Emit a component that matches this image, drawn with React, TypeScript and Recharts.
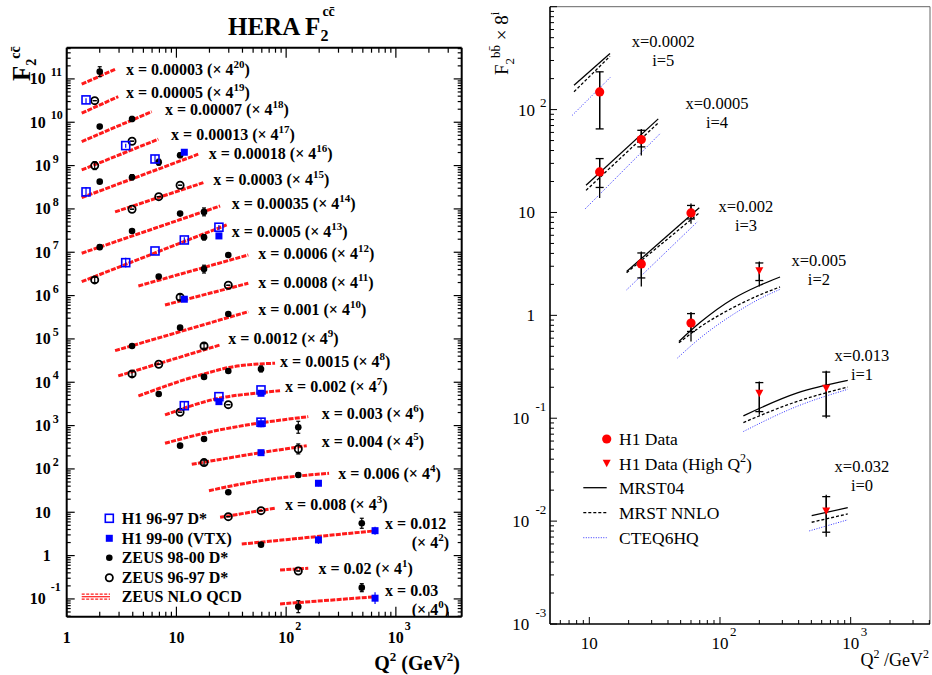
import React from "react";
import { ComposedChart, Line, Scatter, XAxis, YAxis, ErrorBar, ReferenceLine } from "recharts";

const SERIF = "'Liberation Serif', 'Times New Roman', Times, serif";

// ---------------- Left panel: HERA F2 cc ----------------
const L_Q_DOMAIN = [1, 3981];
const L_F_DOMAIN = [0.0389, 5.25e11];

type Pt = { q: number; f: number; e?: [number, number] };

const h1_9697: Pt[] = [
  { q: 1.5, f: 3.28e10, e: [0.6e10, 0.3e10] },
  { q: 3.45, f: 2.89e9, e: [0.3e9, 0.3e9] },
  { q: 1.5, f: 2.47e8, e: [0.57e8, 0.75e8] },
  { q: 6.38, f: 1.42e9, e: [0.27e9, 0.33e9] },
  { q: 3.45, f: 5.75e6, e: [1.3e6, 1.7e6] },
  { q: 6.38, f: 1.07e7 },
  { q: 11.8, f: 1.92e7, e: [0.3e7, 0.3e7] },
  { q: 24.4, f: 3.78e7, e: [0.5e7, 0.5e7] },
  { q: 11.8, f: 2.88e3, e: [0.65e3, 0.8e3] },
  { q: 24.4, f: 4.65e3 },
  { q: 59, f: 6.65e3 },
  { q: 59, f: 1.2e3, e: [0.2e3, 0.25e3] },
];

const h1_9900: Pt[] = [
  { q: 11.8, f: 2.03e9 },
  { q: 24.4, f: 2.38e7 },
  { q: 11.8, f: 8.24e5 },
  { q: 24.4, f: 3.57e3 },
  { q: 59, f: 5.57e3, e: [0.8e3, 1.0e3] },
  { q: 59, f: 1.1e3, e: [0.18e3, 0.2e3] },
  { q: 59, f: 237 },
  { q: 197, f: 46.7, e: [7, 8] },
  { q: 197, f: 2.3, e: [0.44, 0.54] },
  { q: 646, f: 3.76, e: [0.72, 0.89] },
  { q: 646, f: 0.104, e: [0.028, 0.039] },
];

const zeus_9800: Pt[] = [
  { q: 2, f: 1.47e11, e: [0.34e11, 0.44e11] },
  { q: 2, f: 7.94e9 },
  { q: 3.94, f: 1.19e10, e: [0.15e10, 0.17e10] },
  { q: 2, f: 4.26e8 },
  { q: 3.94, f: 5.39e8, e: [0.7e8, 0.8e8] },
  { q: 6.9, f: 1.2e9, e: [0.18e9, 0.2e9] },
  { q: 10.8, f: 1.73e9, e: [0.2e9, 0.22e9] },
  { q: 2, f: 1.31e7, e: [0.15e7, 0.18e7] },
  { q: 3.94, f: 3.1e7 },
  { q: 10.8, f: 7.79e7 },
  { q: 17.85, f: 8.53e7, e: [1.6e7, 2.0e7] },
  { q: 17.85, f: 2.22e7, e: [0.3e7, 0.35e7] },
  { q: 6.9, f: 2.74e6 },
  { q: 17.85, f: 4.12e6, e: [0.8e6, 0.9e6] },
  { q: 29.7, f: 8.67e6 },
  { q: 3.94, f: 6.88e4 },
  { q: 10.8, f: 1.82e5 },
  { q: 29.7, f: 3.77e5 },
  { q: 6.9, f: 5.37e3 },
  { q: 17.85, f: 1.33e4 },
  { q: 29.7, f: 1.82e4 },
  { q: 59, f: 2.03e4, e: [0.3e4, 0.35e4] },
  { q: 10.8, f: 344 },
  { q: 17.85, f: 492 },
  { q: 129, f: 916, e: [250, 340] },
  { q: 29.7, f: 28.9 },
  { q: 129, f: 72.6, e: [8, 9] },
  { q: 59, f: 1.79 },
  { q: 489, f: 5.57, e: [1.3, 1.7] },
  { q: 129, f: 0.0662, e: [0.018, 0.025] },
  { q: 489, f: 0.182, e: [0.035, 0.043] },
];

const zeus_9697: Pt[] = [
  { q: 1.8, f: 3.15e10 },
  { q: 1.8, f: 9.98e8, e: [1.9e8, 2.3e8] },
  { q: 3.94, f: 3.65e9 },
  { q: 3.94, f: 9.84e7 },
  { q: 6.9, f: 1.92e8 },
  { q: 10.8, f: 3.52e8 },
  { q: 1.8, f: 2.3e6, e: [0.3e6, 0.35e6] },
  { q: 10.8, f: 9.16e5, e: [1.2e5, 1.4e5] },
  { q: 29.7, f: 1.73e6 },
  { q: 3.94, f: 1.56e4, e: [0.2e4, 0.25e4] },
  { q: 6.9, f: 2.61e4 },
  { q: 17.85, f: 6.88e4, e: [0.8e4, 0.9e4] },
  { q: 10.8, f: 2.03e3 },
  { q: 29.7, f: 3.04e3 },
  { q: 17.85, f: 140, e: [17, 20] },
  { q: 129, f: 289, e: [67, 88] },
  { q: 29.7, f: 7.92 },
  { q: 59, f: 10.9 },
  { q: 129, f: 0.442 },
];

// ZEUS NLO QCD curves, one per x bin: [Q2, F2 * 4^i]
const nloCurves: number[][][] = [
  [[1.37, 7.55e10], [2.76, 1.67e11]],
  [[1.37, 1.62e10], [2.95, 3.9e10]],
  [[1.37, 3.57e9], [5.95, 1.76e10]],
  [[1.37, 7.94e8], [6.84, 4.06e9]],
  [[1.37, 1.82e8], [15.8, 1.83e9]],
  [[2.76, 8.53e7], [17.6, 4.04e8]],
  [[1.37, 9.49e6], [25, 1.17e8]],
  [[1.37, 2.1e6], [28.7, 4.28e7]],
  [[4.5, 1.67e6], [45.2, 8.67e6]],
  [[7.87, 6.08e5], [45.2, 1.93e6]],
  [[2.76, 5.36e4], [45.2, 4.26e5]],
  [[2.95, 1.4e4], [25, 7.27e4]],
  [[4.5, 4.83e3], [17.85, 1.56e4], [33, 2.29e4], [79.2, 2.75e4]],
  [[7.87, 1.76e3], [24.4, 4.28e3], [59, 5.75e3], [88, 6.4e3]],
  [[7.87, 391], [17.85, 665], [159, 1.61e3]],
  [[13.8, 128], [59, 237], [154, 344]],
  [[19.8, 31.5], [59, 53.7], [246, 79.4]],
  [[25, 7.67], [79.2, 12.4]],
  [[39.4, 1.85], [670, 3.76]],
  [[88, 0.466], [159, 0.51]],
  [[88, 0.0766], [670, 0.113]],
];

const ccLabels = [
  { q: 3.47, f: 1.67e11, text: "x = 0.00003 (\u00d7 4", sup: "20" },
  { q: 3.47, f: 4.83e10, text: "x = 0.00005 (\u00d7 4", sup: "19" },
  { q: 7.87, f: 1.93e10, text: "x = 0.00007 (\u00d7 4", sup: "18" },
  { q: 8.93, f: 5.1e9, text: "x = 0.00013 (\u00d7 4", sup: "17" },
  { q: 19.7, f: 1.93e9, text: "x = 0.00018 (\u00d7 4", sup: "16" },
  { q: 21.7, f: 4.67e8, text: "x = 0.0003 (\u00d7 4", sup: "15" },
  { q: 31.9, f: 1.35e8, text: "x = 0.00035 (\u00d7 4", sup: "14" },
  { q: 31.9, f: 2.99e7, text: "x = 0.0005 (\u00d7 4", sup: "13" },
  { q: 55.8, f: 9.49e6, text: "x = 0.0006 (\u00d7 4", sup: "12" },
  { q: 55.8, f: 2.03e6, text: "x = 0.0008 (\u00d7 4", sup: "11" },
  { q: 55.8, f: 4.67e5, text: "x = 0.001 (\u00d7 4", sup: "10" },
  { q: 29.7, f: 1.0e5, text: "x = 0.0012 (\u00d7 4", sup: "9" },
  { q: 88, f: 2.99e4, text: "x = 0.0015 (\u00d7 4", sup: "8" },
  { q: 97.8, f: 7.92e3, text: "x = 0.002 (\u00d7 4", sup: "7" },
  { q: 211, f: 1.93e3, text: "x = 0.003 (\u00d7 4", sup: "6" },
  { q: 211, f: 426, text: "x = 0.004 (\u00d7 4", sup: "5" },
  { q: 299, f: 79.4, text: "x = 0.006 (\u00d7 4", sup: "4" },
  { q: 97.8, f: 15.3, text: "x = 0.008 (\u00d7 4", sup: "3" },
  { q: 797, f: 5.09, text: "x = 0.012", wrap: "(\u00d7 4", sup: "2" },
  { q: 197, f: 0.509, text: "x = 0.02 (\u00d7 4", sup: "1" },
  { q: 797, f: 0.147, text: "x = 0.03", wrap: "(\u00d7 4", sup: "0" },
];

// ---------------- Right panel: F2 bb ----------------
const R_Q_DOMAIN = [5.003, 4046];
const R_F_DOMAIN = [0.001, 1000];

type BPt = { q: number; f: number; tot: [number, number]; stat: [number, number] };

const h1Data: BPt[] = [
  { q: 12, f: 148.6, tot: [83.7, 84.2], stat: [83.7, 84.2] },
  { q: 12, f: 24.8, tot: [11.0, 9.1], stat: [7.3, 8.6] },
  { q: 25, f: 51.1, tot: [15.4, 13.8], stat: [7.7, 11.8] },
  { q: 25, f: 3.16, tot: [1.25, 1.02], stat: [0.85, 0.88] },
  { q: 60, f: 9.89, tot: [2.11, 2.31], stat: [1.24, 1.81] },
  { q: 60, f: 0.841, tot: [0.284, 0.239], stat: [0.144, 0.199] },
];

const h1HighQ2: BPt[] = [
  { q: 200, f: 2.71, tot: [0.8, 0.63], stat: [0.53, 0.52] },
  { q: 200, f: 0.175, tot: [0.067, 0.053], stat: [0.059, 0.047] },
  { q: 650, f: 0.196, tot: [0.096, 0.093], stat: [0.091, 0.085] },
  { q: 650, f: 0.01256, tot: [0.0055, 0.00544], stat: [0.00476, 0.00474] },
];

const mrst04: number[][][] = [
  [[7.64, 172], [14.4, 351]],
  [[9.44, 18.4], [33.7, 81.2]],
  [[19.3, 2.67], [69.4, 11.1]],
  [[48.5, 0.557], [70.3, 0.85], [126, 1.45], [202, 1.96], [288, 2.36]],
  [[151, 0.1055], [386, 0.175], [950, 0.233]],
  [[503, 0.0113], [950, 0.0135]],
];
const mrstNnlo: number[][][] = [
  [[7.64, 149], [14.4, 330]],
  [[9.44, 16.4], [33.7, 74.3]],
  [[19.3, 2.6], [69.4, 9.9]],
  [[48.5, 0.541], [70.3, 0.769], [126, 1.19], [202, 1.58], [288, 1.89]],
  [[151, 0.0908], [386, 0.145], [950, 0.201]],
  [[503, 0.00975], [950, 0.01175]],
];
const cteq6hq: number[][][] = [
  [[7.41, 88], [14.6, 208]],
  [[9.27, 10.8], [34.8, 58.4]],
  [[19.3, 1.77], [67, 8.09]],
  [[47.3, 0.385], [70.3, 0.6], [126, 1.02], [202, 1.45], [288, 1.79]],
  [[151, 0.0743], [386, 0.13], [950, 0.191]],
  [[482, 0.00803], [950, 0.0103]],
];

const bbLabels = [
  { q: 36.8, f: 456, l1: "x=0.0002", l2: "i=5" },
  { q: 94.8, f: 113.6, l1: "x=0.0005", l2: "i=4" },
  { q: 158, f: 11.2, l1: "x=0.002", l2: "i=3" },
  { q: 571, f: 3.34, l1: "x=0.005", l2: "i=2" },
  { q: 1220, f: 0.4045, l1: "x=0.013", l2: "i=1" },
  { q: 1220, f: 0.0339, l1: "x=0.032", l2: "i=0" },
];

// ---------------- helpers ----------------
function logTicks(min: number, max: number): number[] {
  const out: number[] = [];
  for (let d = Math.floor(Math.log10(min)); d <= Math.ceil(Math.log10(max)); d++) {
    for (let m = 1; m <= 9; m++) {
      const v = Number((m * Math.pow(10, d)).toPrecision(6));
      if (v >= min * 0.99999 && v <= max * 1.00001) out.push(v);
    }
  }
  return out;
}
function isMajor(v: number) {
  const e = Math.round(Math.log10(v));
  return Math.abs(v / Math.pow(10, e) - 1) < 1e-6;
}
const toPts = (arr: number[][]) => arr.map(([q, f]) => ({ q, f }));
const withErr = (arr: Pt[]) => arr.map((p) => ({ q: p.q, f: p.f, e: p.e ?? [0, 0] }));

const L_W = 470, L_H = 675;
// plot area: x 66.7..461.7, y 47.7..616.7 (axes take 1px each)
const L_MARGIN = { top: 47.7, right: 8.3, bottom: 57.3, left: 65.7 };
const L_PW = 395;
const L_PH = 569;

const R_W = 462, R_H = 675;
// plot area: x 550..930, y 6.7..624
const R_MARGIN = { top: 6.7, right: 2, bottom: 50, left: 79 };

const leftXTicks = logTicks(L_Q_DOMAIN[0], L_Q_DOMAIN[1]);
const leftYTicks = logTicks(L_F_DOMAIN[0], L_F_DOMAIN[1]);
const rightXTicks = logTicks(R_Q_DOMAIN[0], R_Q_DOMAIN[1]);
const rightYTicks = logTicks(R_F_DOMAIN[0], R_F_DOMAIN[1]);

// ---------------- tick renderers ----------------
const LeftYTick = (p: any) => {
  const { x, y, payload } = p;
  const v = payload.value;
  const major = isMajor(v);
  const len = major ? 8 : 4;
  const e = Math.round(Math.log10(v));
  let label: any = null;
  if (major) {
    const common = { fontFamily: SERIF, fontWeight: "bold" as const, fill: "#000" };
    if (e === 0 || e === 1) {
      label = (
        <text x={x - 16} y={y + 5.5} textAnchor="end" fontSize={16} {...common}>
          {e === 0 ? "1" : "10"}
        </text>
      );
    } else {
      const s = String(e);
      const two = s.length > 1;
      label = (
        <g>
          <text x={x - (two ? 21 : 16)} y={y + 5.5} textAnchor="end" fontSize={16} {...common}>10</text>
          <text x={x - (two ? 16 : 14)} y={y + (e < 0 ? -8 : -3)} textAnchor="start" fontSize={12} {...common}>{s}</text>
        </g>
      );
    }
  }
  return (
    <g>
      <line x1={x} x2={x + len} y1={y} y2={y} stroke="#000" strokeWidth={1.2} />
      <line x1={x + L_PW} x2={x + L_PW - len} y1={y} y2={y} stroke="#000" strokeWidth={1.2} />
      {label}
    </g>
  );
};

const LeftXTick = (p: any) => {
  const { x, y, payload } = p;
  const v = payload.value;
  const major = isMajor(v);
  const len = major ? 10 : 5;
  const e = Math.round(Math.log10(v));
  const common = { fontFamily: SERIF, fontWeight: "bold" as const, fill: "#000" };
  let label: any = null;
  if (major) {
    label = e <= 1 ? (
      <text x={x} y={y + 26} textAnchor="middle" fontSize={16} {...common}>{e === 0 ? "1" : "10"}</text>
    ) : (
      <g>
        <text x={x} y={y + 26} textAnchor="middle" fontSize={16} {...common}>10</text>
        <text x={x + 9} y={y + 13} textAnchor="start" fontSize={12} {...common}>{String(e)}</text>
      </g>
    );
  }
  return (
    <g>
      <line x1={x} x2={x} y1={y} y2={y - len} stroke="#000" strokeWidth={1.2} />
      <line x1={x} x2={x} y1={y - L_PH} y2={y - L_PH + len} stroke="#000" strokeWidth={1.2} />
      {label}
    </g>
  );
};

const RightYTick = (p: any) => {
  const { x, y, payload } = p;
  const v = payload.value;
  const major = isMajor(v);
  const len = major ? 7 : 4;
  const e = Math.round(Math.log10(v));
  const common = { fontFamily: SERIF, fill: "#000" };
  let label: any = null;
  if (major && e < 3) {
    if (e === 0 || e === 1) {
      label = <text x={x - 15} y={y + 6} textAnchor="end" fontSize={17} {...common}>{e === 0 ? "1" : "10"}</text>;
    } else if (e > 1) {
      label = (
        <g>
          <text x={x - 15} y={y + 6} textAnchor="end" fontSize={17} {...common}>10</text>
          <text x={x - 10} y={y - 3} textAnchor="start" fontSize={13} {...common}>{String(e)}</text>
        </g>
      );
    } else {
      label = (
        <g>
          <text x={x - 20.7} y={y + 6} textAnchor="end" fontSize={17} {...common}>10</text>
          <text x={x - 14.5} y={y - 7} textAnchor="start" fontSize={13} {...common}>{String(e)}</text>
        </g>
      );
    }
  }
  return (
    <g>
      <line x1={x} x2={x + len} y1={y} y2={y} stroke="#000" strokeWidth={1} />
      {label}
    </g>
  );
};

const RightXTick = (p: any) => {
  const { x, y, payload } = p;
  const v = payload.value;
  const major = isMajor(v);
  const len = major ? 7 : 4;
  const e = Math.round(Math.log10(v));
  const common = { fontFamily: SERIF, fill: "#000" };
  let label: any = null;
  if (major) {
    label = e <= 1 ? (
      <text x={x} y={y + 25} textAnchor="middle" fontSize={17} {...common}>{e === 0 ? "1" : "10"}</text>
    ) : (
      <g>
        <text x={x} y={y + 25} textAnchor="middle" fontSize={17} {...common}>10</text>
        <text x={x + 10} y={y + 12} textAnchor="start" fontSize={13} {...common}>{String(e)}</text>
      </g>
    );
  }
  return (
    <g>
      <line x1={x} x2={x} y1={y} y2={y - len} stroke="#000" strokeWidth={1} />
      {label}
    </g>
  );
};

// ---------------- marker shapes ----------------
const OpenSquare = (p: any) => (p.cx == null ? <g /> : <rect x={p.cx - 4} y={p.cy - 4} width={8} height={8} fill="none" stroke="#0000ff" strokeWidth={1.6} />);
const FilledSquare = (p: any) => (p.cx == null ? <g /> : <rect x={p.cx - 3.5} y={p.cy - 3.5} width={7} height={7} fill="#0000ff" />);
const FilledCircle = (p: any) => (p.cx == null ? <g /> : <circle cx={p.cx} cy={p.cy} r={3.3} fill="#000" />);
const OpenCircle = (p: any) => (p.cx == null ? <g /> : <circle cx={p.cx} cy={p.cy} r={3.6} fill="none" stroke="#000" strokeWidth={1.8} />);
const RedCircle = (p: any) => (p.cx == null ? <g /> : <circle cx={p.cx} cy={p.cy} r={4.6} fill="#ff0000" />);
const RedTriangle = (p: any) =>
  p.cx == null ? <g /> : <polygon points={`${p.cx - 4},${p.cy - 3.5} ${p.cx + 4},${p.cy - 3.5} ${p.cx},${p.cy + 4}`} fill="#ff0000" />;

const CcLabel = (p: any) => {
  const d = p.payload || p;
  if (p.cx == null) return <g />;
  if (d.wrap) {
    return (
      <text x={p.cx} y={p.cy + 4.5} fontFamily={SERIF} fontWeight="bold" fontSize={16} fill="#000">
        {d.text}
        <tspan x={p.cx + 26.7} dy={19}>{d.wrap}</tspan>
        <tspan dy={-7} fontSize={11}>{d.sup}</tspan>
        <tspan dy={7}>)</tspan>
      </text>
    );
  }
  return (
    <text x={p.cx} y={p.cy + 5.5} fontFamily={SERIF} fontWeight="bold" fontSize={16} fill="#000">
      {d.text}
      <tspan dy={-7} fontSize={11}>{d.sup}</tspan>
      <tspan dy={7}>)</tspan>
    </text>
  );
};

const BbLabel = (p: any) => {
  const d = p.payload || p;
  if (p.cx == null) return <g />;
  return (
    <text x={p.cx} y={p.cy + 5} textAnchor="middle" fontFamily={SERIF} fontSize={16.5} fill="#000">
      {d.l1}
      <tspan x={p.cx} dy={19}>{d.l2}</tspan>
    </text>
  );
};

function LeftChart() {
  return (
    <ComposedChart width={L_W} height={L_H} margin={L_MARGIN}>
      <XAxis
        type="number"
        dataKey="q"
        scale="log"
        domain={L_Q_DOMAIN}
        allowDataOverflow
        ticks={leftXTicks}
        interval={0}
        tick={LeftXTick}
        tickLine={false}
        tickSize={0}
        tickMargin={0}
        axisLine={{ stroke: "#000", strokeWidth: 2 }}
        height={1}
      />
      <YAxis
        type="number"
        dataKey="f"
        scale="log"
        domain={L_F_DOMAIN}
        allowDataOverflow
        ticks={leftYTicks}
        interval={0}
        tick={LeftYTick}
        tickLine={false}
        tickSize={0}
        tickMargin={0}
        axisLine={{ stroke: "#000", strokeWidth: 2 }}
        width={1}
      />
      <ReferenceLine x={L_Q_DOMAIN[1]} stroke="#000" strokeWidth={2} />
      <ReferenceLine y={L_F_DOMAIN[1]} stroke="#000" strokeWidth={2} />
      {nloCurves.map((c, i) => (
        <Line
          key={"nlo" + i}
          data={toPts(c)}
          dataKey="f"
          type={c.length > 2 ? "monotone" : "linear"}
          stroke="#ff1a1a"
          strokeWidth={3}
          strokeDasharray="5 1.3"
          dot={false}
          activeDot={false}
          isAnimationActive={false}
        />
      ))}
      <Scatter data={withErr(zeus_9800)} dataKey="f" shape={FilledCircle} isAnimationActive={false}>
        <ErrorBar dataKey="e" direction="y" width={2} stroke="#000" strokeWidth={1.2} />
      </Scatter>
      <Scatter data={withErr(zeus_9697)} dataKey="f" shape={OpenCircle} isAnimationActive={false}>
        <ErrorBar dataKey="e" direction="y" width={2} stroke="#000" strokeWidth={1.2} />
      </Scatter>
      <Scatter data={withErr(h1_9697)} dataKey="f" shape={OpenSquare} isAnimationActive={false}>
        <ErrorBar dataKey="e" direction="y" width={0} stroke="#0000ff" strokeWidth={1.2} />
      </Scatter>
      <Scatter data={withErr(h1_9900)} dataKey="f" shape={FilledSquare} isAnimationActive={false}>
        <ErrorBar dataKey="e" direction="y" width={0} stroke="#0000ff" strokeWidth={1.2} />
      </Scatter>
      <Scatter data={ccLabels} dataKey="f" shape={CcLabel} isAnimationActive={false} />
    </ComposedChart>
  );
}

function RightChart() {
  return (
    <ComposedChart width={R_W} height={R_H} margin={R_MARGIN}>
      <XAxis
        type="number"
        dataKey="q"
        scale="log"
        domain={R_Q_DOMAIN}
        allowDataOverflow
        ticks={rightXTicks}
        interval={0}
        tick={RightXTick}
        tickLine={false}
        tickSize={0}
        tickMargin={0}
        axisLine={{ stroke: "#000", strokeWidth: 1.6 }}
        height={1}
      />
      <YAxis
        type="number"
        dataKey="f"
        scale="log"
        domain={R_F_DOMAIN}
        allowDataOverflow
        ticks={rightYTicks}
        interval={0}
        tick={RightYTick}
        tickLine={false}
        tickSize={0}
        tickMargin={0}
        axisLine={{ stroke: "#000", strokeWidth: 1.6 }}
        width={1}
      />
      <ReferenceLine x={R_Q_DOMAIN[1]} stroke="#666" strokeWidth={1} />
      <ReferenceLine y={R_F_DOMAIN[1]} stroke="#666" strokeWidth={1} />
      {cteq6hq.map((c, i) => (
        <Line key={"cteq" + i} data={toPts(c)} dataKey="f" type={c.length > 2 ? "monotone" : "linear"} stroke="#3333ff" strokeWidth={1} strokeDasharray="1 1.5" dot={false} activeDot={false} isAnimationActive={false} />
      ))}
      {mrstNnlo.map((c, i) => (
        <Line key={"nnlo" + i} data={toPts(c)} dataKey="f" type={c.length > 2 ? "monotone" : "linear"} stroke="#000" strokeWidth={1.3} strokeDasharray="3 2" dot={false} activeDot={false} isAnimationActive={false} />
      ))}
      {mrst04.map((c, i) => (
        <Line key={"mrst" + i} data={toPts(c)} dataKey="f" type={c.length > 2 ? "monotone" : "linear"} stroke="#000" strokeWidth={1.3} dot={false} activeDot={false} isAnimationActive={false} />
      ))}
      <Scatter data={h1Data} dataKey="f" shape={RedCircle} isAnimationActive={false}>
        <ErrorBar dataKey="tot" direction="y" width={0} stroke="#000" strokeWidth={1.3} />
        <ErrorBar dataKey="stat" direction="y" width={4} stroke="#000" strokeWidth={1.3} />
      </Scatter>
      <Scatter data={h1HighQ2} dataKey="f" shape={RedTriangle} isAnimationActive={false}>
        <ErrorBar dataKey="tot" direction="y" width={0} stroke="#000" strokeWidth={1.3} />
        <ErrorBar dataKey="stat" direction="y" width={4} stroke="#000" strokeWidth={1.3} />
      </Scatter>
      <Scatter data={bbLabels} dataKey="f" shape={BbLabel} isAnimationActive={false} />
    </ComposedChart>
  );
}

function Overlay() {
  const bold = { fontFamily: SERIF, fontWeight: "bold" as const, fill: "#000" };
  const norm = { fontFamily: SERIF, fill: "#000" };
  return (
    <svg width={932} height={675} style={{ position: "absolute", left: 0, top: 0, pointerEvents: "none" }}>
      {/* left title */}
      <text x={228} y={35} fontSize={25} {...bold}>
        HERA F<tspan fontSize={16} dy={6}>2</tspan>
        <tspan fontSize={14} dx={-6} dy={-25}>c{"c\u0304"}</tspan>
      </text>
      {/* left y title */}
      <text transform="rotate(-90)" x={-81} y={30} fontSize={25} {...bold}>
        F<tspan fontSize={14} dy={6}>2</tspan>
        <tspan fontSize={14} dy={-16}>c{"c\u0304"}</tspan>
      </text>
      {/* left x title */}
      <text x={460} y={670} textAnchor="end" fontSize={20} {...bold}>
        Q<tspan fontSize={13} dy={-9}>2</tspan>
        <tspan dy={9}> (GeV</tspan>
        <tspan fontSize={13} dy={-9}>2</tspan>
        <tspan dy={9}>)</tspan>
      </text>
      {/* left legend */}
      <rect x={105.3} y={514.3} width={8} height={8} fill="none" stroke="#0000ff" strokeWidth={1.6} />
      <text x={121.7} y={524} fontSize={16} {...bold}>H1 96-97 D*</text>
      <rect x={105.8} y={534.8} width={7} height={7} fill="#0000ff" />
      <text x={121.7} y={544} fontSize={16} {...bold}>H1 99-00 (VTX)</text>
      <circle cx={109.3} cy={557.7} r={3.3} fill="#000" />
      <text x={121.7} y={563.4} fontSize={16} {...bold}>ZEUS 98-00 D*</text>
      <circle cx={109.3} cy={577.7} r={3.6} fill="none" stroke="#000" strokeWidth={1.8} />
      <text x={121.7} y={583.4} fontSize={16} {...bold}>ZEUS 96-97 D*</text>
      <line x1={81.7} x2={110} y1={594.2} y2={594.2} stroke="#ff1a1a" strokeWidth={1.2} strokeDasharray="3 1.5" />
      <line x1={81.7} x2={110} y1={596.7} y2={596.7} stroke="#ff1a1a" strokeWidth={1.2} />
      <line x1={81.7} x2={110} y1={599.2} y2={599.2} stroke="#ff1a1a" strokeWidth={1.2} strokeDasharray="3 1.5" />
      <text x={121.7} y={602.4} fontSize={16} {...bold}>ZEUS NLO QCD</text>

      {/* right y title */}
      <text transform="rotate(-90)" x={-75} y={508} fontSize={19} {...norm}>
        F<tspan fontSize={13} dy={6}>2</tspan>
        <tspan fontSize={13} dy={-14}>b{"b\u0304"}</tspan>
        <tspan fontSize={19} dy={8}> {"\u00d7"} 8</tspan>
        <tspan fontSize={13} dy={-9}>i</tspan>
      </text>
      {/* right x title */}
      <text x={929} y={666} textAnchor="end" fontSize={18} {...norm}>
        Q<tspan fontSize={12} dy={-8}>2</tspan>
        <tspan dy={8}> /GeV</tspan>
        <tspan fontSize={12} dy={-8}>2</tspan>
      </text>
      {/* right legend */}
      <circle cx={606.7} cy={439} r={4.6} fill="#ff0000" />
      <text x={619} y={445} fontSize={17.5} {...norm}>H1 Data</text>
      <polygon points="602.7,459.8 610.7,459.8 606.7,467.3" fill="#ff0000" />
      <text x={619} y={469.5} fontSize={17.5} {...norm}>
        H1 Data (High Q<tspan fontSize={12} dy={-8}>2</tspan>
        <tspan dy={8}>)</tspan>
      </text>
      <line x1={583.3} x2={606.7} y1={487.7} y2={487.7} stroke="#000" strokeWidth={1.3} />
      <text x={619} y={494} fontSize={17.5} {...norm}>MRST04</text>
      <line x1={583.3} x2={606.7} y1={512.7} y2={512.7} stroke="#000" strokeWidth={1.3} strokeDasharray="3 2" />
      <text x={619} y={519} fontSize={17.5} {...norm}>MRST NNLO</text>
      <line x1={583.3} x2={606.7} y1={537.7} y2={537.7} stroke="#3333ff" strokeWidth={1} strokeDasharray="1 1.5" />
      <text x={619} y={544} fontSize={17.5} {...norm}>CTEQ6HQ</text>
    </svg>
  );
}

export default function App() {
  return (
    <div style={{ position: "absolute", left: 0, top: 0, width: 932, height: 675, background: "#fff", overflow: "hidden" }}>
      <div style={{ position: "absolute", left: 0, top: 0 }}>
        <LeftChart />
      </div>
      <div style={{ position: "absolute", left: 470, top: 0 }}>
        <RightChart />
      </div>
      <Overlay />
    </div>
  );
}
